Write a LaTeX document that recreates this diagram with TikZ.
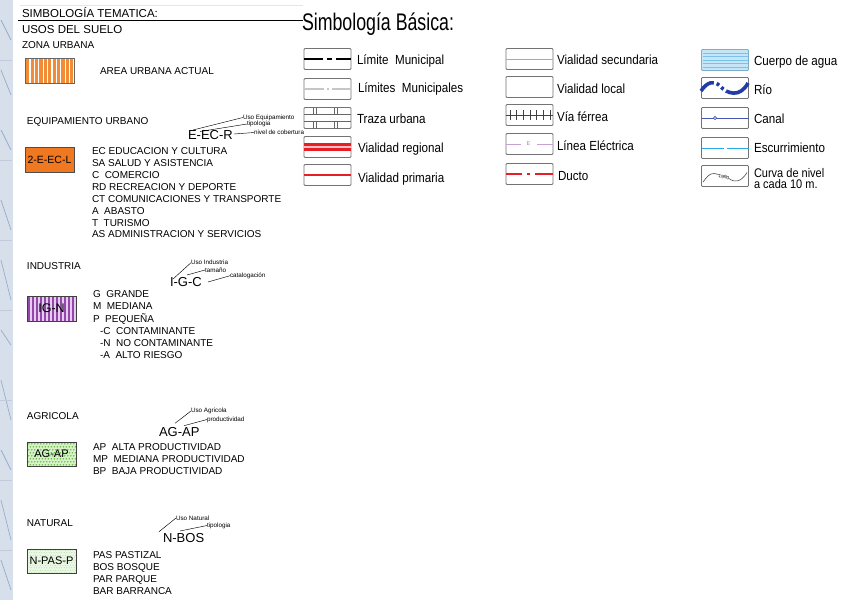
\documentclass[tikz,border=0pt]{standalone}
\usepackage{fontspec}
\usepackage{graphicx}
\setmainfont{Liberation Sans}
\usetikzlibrary{calc}
\definecolor{orU}{RGB}{243,140,55}
\definecolor{orE}{RGB}{240,120,32}
\definecolor{puI}{RGB}{150,70,170}
\definecolor{laI}{RGB}{228,205,238}
\definecolor{grA}{RGB}{95,185,60}
\definecolor{grAbg}{RGB}{215,242,200}
\definecolor{grNbg}{RGB}{234,247,228}
\definecolor{grN}{RGB}{150,205,130}
\definecolor{boxgray}{RGB}{115,115,115}
\definecolor{rojo}{RGB}{230,30,40}
\definecolor{navy}{RGB}{35,60,165}
\definecolor{canal}{RGB}{70,85,175}
\definecolor{cyanE}{RGB}{40,170,230}
\definecolor{aguaF}{RGB}{198,230,247}
\definecolor{aguaL}{RGB}{120,195,235}
\definecolor{lila}{RGB}{200,160,215}
\definecolor{stripbg}{RGB}{215,224,234}
\definecolor{stripln}{RGB}{150,170,200}
\definecolor{orSec}{RGB}{245,150,80}
\newcommand{\narr}[1]{\scalebox{0.88}[1]{#1}}
\tikzset{
 every node/.style={inner sep=0pt, outer sep=0pt},
 ttl/.style={anchor=base west, font=\fontsize{11.5}{13}\selectfont},
 hd/.style={anchor=base west, font=\fontsize{10}{12}\selectfont},
 lst/.style={anchor=base west, font=\fontsize{10}{12}\selectfont},
 cod/.style={anchor=base west, font=\fontsize{13}{15}\selectfont},
 tinyl/.style={anchor=west, font=\fontsize{6.3}{7}\selectfont},
 rt/.style={anchor=base west, font=\fontsize{13.2}{15}\selectfont, text=black},
 lbox/.style={draw=boxgray, line width=0.9pt, rounded corners=1pt, minimum width=47pt, minimum height=21pt},
 sbox/.style={draw=black!75, line width=0.6pt, minimum width=49pt, minimum height=25pt},
 ptr/.style={draw=black, line width=0.45pt},
}
\begin{document}
\begin{tikzpicture}[x=1pt,y=-1pt]
\useasboundingbox (0,0) rectangle (846,600);
\fill[white] (0,0) rectangle (846,600);
% left map strip
\fill[stripbg] (0,0) rectangle (12.5,600);
\foreach \a/\b in {20/40,70/95,130/150,200/230,260/300,330/345,380/420,450/470,500/540,560/590}
  \draw[stripln, line width=0.7pt] (1,\a) -- (11,\b);
\foreach \a in {60,160,240,310,400,480,550}
  \draw[stripln!60, line width=0.5pt] (0,\a) -- (12,\a);
% ===== left: thematic symbology =====
\draw[gray!20, line width=0.6pt] (20,5) -- (303,5);
\node[ttl] (t1) at (22,17.4) {SIMBOLOGÍA TEMATICA:};
\draw[black, line width=0.7pt] (18,20.7) -- (303,20.7);
\node[ttl] (t2) at (22,33.4) {USOS DEL SUELO};
% zona urbana
\node[hd] (hzu) at (22,48.6) {ZONA URBANA};
\foreach \i in {0,...,10} \fill[orU] ({26.2+\i*4.4},58) rectangle ++(3.1,25);
\node[sbox, draw=black!60] (zu) at (49.5,70.5) {};
\node[lst] (zut) at (100,74.6) {AREA URBANA ACTUAL};
% equipamiento
\node[hd] (heq) at (27,124.6) {EQUIPAMIENTO URBANO};
\node[cod] (ceq) at (188,139.7) {E-EC-R};
\node[tinyl] (l1) at (243,117.5) {Uso Equipamiento};
\node[tinyl] (l2) at (247,124) {tipologia};
\node[tinyl] (l3) at (254,132.5) {nivel de cobertura};
\coordinate (p1) at (193,130);
\coordinate (p2) at (200,131.5);
\coordinate (p3) at (234,134);
\draw[ptr] (p1) -- (l1.west);
\draw[ptr] (p2) -- (l2.west);
\draw[ptr] (p3) -- (l3.west);
\node[sbox, fill=orE, draw=black!70] (eq) at (49.5,159.5) {\fontsize{10.5}{12}\selectfont 2-E-EC-L};
\node[lst] (e1) at (92,154.6) {EC EDUCACION Y CULTURA};
\node[lst] (e2) at (92,166.5) {SA SALUD Y ASISTENCIA};
\node[lst] (e3) at (92,178.4) {C\ \ COMERCIO};
\node[lst] (e4) at (92,190.3) {RD RECREACION Y DEPORTE};
\node[lst] (e5) at (92,202.2) {CT COMUNICACIONES Y TRANSPORTE};
\node[lst] (e6) at (92,214.1) {A\ \ ABASTO};
\node[lst] (e7) at (92,226.0) {T\ \ TURISMO};
\node[lst] (e8) at (92,237.9) {AS ADMINISTRACION Y SERVICIOS};
% industria
\node[hd] (hin) at (27,269.6) {INDUSTRIA};
\node[cod] (cin) at (170,286.7) {I-G-C};
\node[tinyl] (i1) at (191,262.7) {Uso Industria};
\node[tinyl] (i2) at (205,270) {tamaño};
\node[tinyl] (i3) at (230,275.7) {catalogación};
\coordinate (q1) at (173,279);
\coordinate (q2) at (187,275);
\coordinate (q3) at (208,282);
\draw[ptr] (q1) -- (i1.west);
\draw[ptr] (q2) -- (i2.west);
\draw[ptr] (q3) -- (i3.west);
\fill[laI] (27,296) rectangle (76,321);
\foreach \i in {0,...,11} \fill[puI] ({28+\i*4},296) rectangle ++(1.7,25);
\node[sbox, draw=black!75] (in) at (51.5,308.5) {\fontsize{12.5}{14}\selectfont IG-N};
\node[lst] (g1) at (93,297.6) {G\ \ GRANDE};
\node[lst] (g2) at (93,309.8) {M\ \ MEDIANA};
\node[lst] (g3) at (93,322.0) {P\ \ PEQUEÑA};
\node[lst] (g4) at (100,334.2) {-C\ \ CONTAMINANTE};
\node[lst] (g5) at (100,346.4) {-N\ \ NO CONTAMINANTE};
\node[lst] (g6) at (100,358.6) {-A\ \ ALTO RIESGO};
% agricola
\node[hd] (hag) at (27,419.6) {AGRICOLA};
\node[cod] (cag) at (159,436.7) {AG-AP};
\node[tinyl] (a1) at (191,411) {Uso Agricola};
\node[tinyl] (a2) at (207,419.5) {productividad};
\coordinate (r1) at (175,423.3);
\coordinate (r2) at (184,425.7);
\draw[ptr] (r1) -- (a1.west);
\draw[ptr] (r2) -- (a2.west);
\fill[grAbg] (27,442) rectangle (76,466);
\foreach \x in {0,...,15} \foreach \y in {0,...,7}
  \fill[grA] ({28.8+\x*3+mod(\y,2)*1.5},{443.8+\y*3}) circle (0.8);
\node[sbox, minimum height=24pt, draw=black!75] (ag) at (51.5,454) {\fontsize{11}{13}\selectfont AG-AP};
\node[lst] (m1) at (93,450.6) {AP\ \ ALTA PRODUCTIVIDAD};
\node[lst] (m2) at (93,462.6) {MP\ \ MEDIANA PRODUCTIVIDAD};
\node[lst] (m3) at (93,474.6) {BP\ \ BAJA PRODUCTIVIDAD};
% natural
\node[hd] (hna) at (27,526.6) {NATURAL};
\node[cod] (cna) at (163,542.7) {N-BOS};
\node[tinyl] (n1) at (176,518) {Uso Natural};
\node[tinyl] (n2) at (207,525.5) {tipologia};
\coordinate (s1) at (159,531.7);
\coordinate (s2) at (180,531);
\draw[ptr] (s1) -- (n1.west);
\draw[ptr] (s2) -- (n2.west);
\fill[grNbg] (27,549) rectangle (76,573);
\foreach \x in {0,...,19} \foreach \y in {0,...,9}
  \fill[grN] ({28+\x*2.5+mod(\y,2)*1.25},{550.2+\y*2.5}) circle (0.45);
\node[sbox, minimum height=24pt, draw=black!75] (na) at (51.5,561) {\fontsize{11}{13}\selectfont N-PAS-P};
\node[lst] (b1) at (93,558.6) {PAS PASTIZAL};
\node[lst] (b2) at (93,570.6) {BOS BOSQUE};
\node[lst] (b3) at (93,582.6) {PAR PARQUE};
\node[lst] (b4) at (93,594.0) {BAR BARRANCA};
% ===== right: basic symbology =====
\node[anchor=base west] (tb) at (302,30.5) {\scalebox{0.74}[1]{\fontsize{24}{26}\selectfont Simbología Básica:}};
% column 1
\node[lbox] (c11) at (327.5,59) {};
\draw[black, line width=2.8pt, dash pattern=on 19pt off 4pt on 5pt off 4pt on 30pt] (c11.west) -- (c11.east);
\node[rt] (k11) at (357,64.1) {\narr{Límite\ \ Municipal}};
\node[lbox] (c12) at (327.5,89) {};
\draw[gray!45, line width=2.8pt, dash pattern=on 20pt off 3pt on 2pt off 3pt on 30pt] (c12.west) -- (c12.east);
\node[rt] (k12) at (358,92.1) {\narr{Límites\ \ Municipales}};
\node[lbox] (c13) at (327.5,118) {};
\begin{scope}[shift={(304,107.5)}, black!60, line width=0.6pt]
  \draw (0,6.7) -- (47,6.7);
  \draw (0,13.3) -- (47,13.3);
  \foreach \xx in {9,12.3,30,33.3} {
    \draw (\xx,0) -- (\xx,6.7);
    \draw (\xx,13.3) -- (\xx,21);
  }
\end{scope}
\node[rt] (k13) at (357,123.1) {\narr{Traza urbana}};
\node[lbox] (c14) at (327.5,147) {};
\draw[rojo, line width=8pt] (c14.west) -- (c14.east);
\draw[red!25, line width=2pt] (c14.west) -- (c14.east);
\node[rt] (k14) at (358,152.1) {\narr{Vialidad regional}};
\node[lbox] (c15) at (327.5,175) {};
\draw[rojo, line width=1.2pt] (c15.west) -- (c15.east);
\node[rt] (k15) at (358,182.1) {\narr{Vialidad primaria}};
% column 2
\node[lbox] (c21) at (529.5,59) {};
\draw[orSec, line width=1pt] (c21.west) -- (c21.east);
\node[rt] (k21) at (557,64.1) {\narr{Vialidad secundaria}};
\node[lbox] (c22) at (529.5,87) {};
\node[rt] (k22) at (557,93.1) {\narr{Vialidad local}};
\node[lbox] (c23) at (529.5,115) {};
\draw[black!75, line width=0.7pt] (c23.west) -- (c23.east);
\foreach \i in {0,...,6} \draw[black!75, line width=0.7pt] ({510+\i*6.67},110) -- ++(0,10);
\node[rt] (k23) at (557,121.1) {\narr{Vía férrea}};
\node[lbox] (c24) at (529.5,144) {};
\draw[lila, line width=1pt] (506,144) -- (521,144);
\draw[lila, line width=1pt] (537,144) -- (553,144);
\node[font=\fontsize{5.5}{6}\selectfont, text=lila!80!black] (ee) at (528.5,144) {E};
\node[rt] (k24) at (557,150.1) {\narr{Línea Eléctrica}};
\node[lbox] (c25) at (529.5,174) {};
\draw[rojo, line width=2.3pt] (506,174) -- (522,174);
\draw[rojo, line width=2.3pt] (527,174) -- (530,174);
\draw[rojo, line width=2.3pt] (535,174) -- (553,174);
\node[rt] (k25) at (558,180.1) {\narr{Ducto}};
% column 3
\node[lbox, fill=aguaF, draw=aguaL!70!gray] (c31) at (725,60) {};
\foreach \yy in {53,56.5,60,63.5,67} \draw[aguaL, line width=0.5pt] (702.5,\yy) -- (747.5,\yy);
\node[rt] (k31) at (754,65.1) {\narr{Cuerpo de agua}};
\node[lbox] (c32) at (725,88) {};
\draw[navy, line width=3.6pt, dash pattern=on 16pt off 3pt on 3pt off 3pt on 3pt off 3pt on 40pt]
  (701,91) .. controls (707,82) and (714,80) .. (720,86) .. controls (727,94) and (740,98) .. (748,83);
\node[rt] (k32) at (754,94.1) {\narr{Río}};
\node[lbox] (c33) at (725,118) {};
\draw[canal, line width=0.7pt] (c33.west) -- (c33.east);
\draw[canal, fill=white, line width=0.7pt] (715,118) circle (1.7);
\node[rt] (k33) at (754,123.1) {\narr{Canal}};
\node[lbox] (c34) at (725,148) {};
\draw[cyanE, line width=1pt] (701.5,148) -- (724,148);
\draw[cyanE, line width=1pt] (727,148) -- (748.5,148);
\node[rt] (k34) at (754,152.1) {\narr{Escurrimiento}};
\node[lbox] (c35) at (725,176) {};
\draw[black!80, line width=0.5pt] (703,182) .. controls (707,177) and (709,173.5) .. (714,173.5) -- (719,174.5);
\draw[black!80, line width=0.5pt] (729,178.5) .. controls (735,183) and (741,182) .. (747,172.5);
\node[font=\fontsize{4.8}{5}\selectfont, rotate=-8] (yr) at (724,177) {1990};
\node[rt, font=\fontsize{12.5}{14}\selectfont] (k35) at (754,177.4) {\narr{Curva de nivel}};
\node[rt, font=\fontsize{12.5}{14}\selectfont] (k36) at (754,188.4) {\narr{a cada 10 m.}};
\end{tikzpicture}
\end{document}
